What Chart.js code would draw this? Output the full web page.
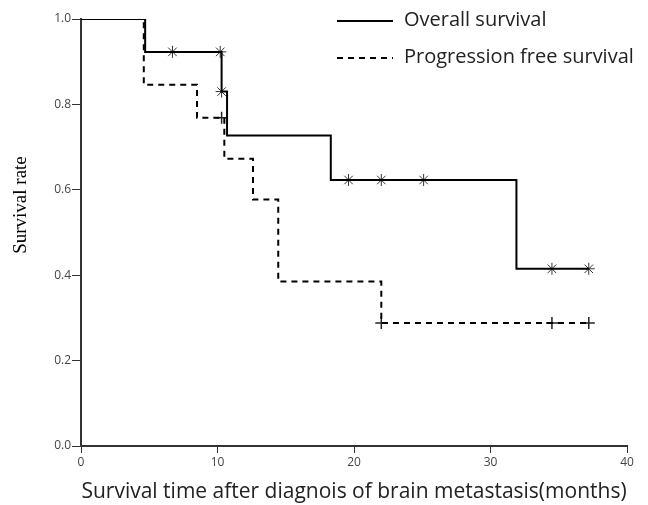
<!DOCTYPE html>
<html>
<head>
<meta charset="utf-8">
<script src="https://cdn.jsdelivr.net/npm/chart.js@4"></script>
<style>
  html, body { margin: 0; padding: 0; background: #fff; }
  #wrap { width: 648px; height: 505px; }
</style>
</head>
<body>
<div id="wrap"><canvas id="kmChart" width="648" height="505"></canvas></div>
<script>
'use strict';

// Kaplan-Meier steps (months, survival)
var osTimes = [0, 4.7, 10.3, 10.7, 18.3, 31.9, 37.2];
var osRates = [1.0, 0.923, 0.830, 0.727, 0.623, 0.415, 0.415];
var osCensorTimes = [6.7, 10.2, 10.3, 19.6, 22.0, 25.1, 34.5, 37.2];
var osCensorRates = [0.923, 0.923, 0.830, 0.623, 0.623, 0.623, 0.415, 0.415];

var pfsTimes = [0, 4.6, 8.5, 10.5, 12.6, 14.45, 22.0, 37.2];
var pfsRates = [1.0, 0.846, 0.769, 0.673, 0.577, 0.385, 0.288, 0.288];
var pfsCensorTimes = [10.3, 22.0, 34.5, 37.2];
var pfsCensorRates = [0.769, 0.288, 0.288, 0.288];

var xTicks = [0, 10, 20, 30, 40];
var yTicks = [0, 0.2, 0.4, 0.6, 0.8, 1.0];

var legendLabels = ['Overall survival', 'Progression free survival'];
var xTitle = 'Survival time after diagnois of brain metastasis(months)';
var yTitle = 'Survival rate';

function toPoints(xs, ys) {
  return xs.map(function(x, i) { return { x: x, y: ys[i] }; });
}

var tickFont = { family: 'Open Sans', size: 12 };

// legend + y title drawn by hand so they sit where the original has them
var extras = {
  id: 'extras',
  afterDraw: function(chart) {
    var ctx = chart.ctx;
    ctx.save();
    ctx.strokeStyle = '#000';
    ctx.lineWidth = 2;
    ctx.beginPath();
    ctx.moveTo(337, 21);
    ctx.lineTo(393, 21);
    ctx.stroke();
    ctx.setLineDash([6, 5]);
    ctx.beginPath();
    ctx.moveTo(337, 58);
    ctx.lineTo(393, 58);
    ctx.stroke();
    ctx.setLineDash([]);
    ctx.fillStyle = '#222';
    ctx.font = '20px "Open Sans"';
    ctx.textBaseline = 'middle';
    ctx.fillText(legendLabels[0], 404, 20);
    ctx.fillText(legendLabels[1], 404, 57);

    ctx.translate(21, 205);
    ctx.rotate(-Math.PI / 2);
    ctx.font = '19px "Liberation Serif"';
    ctx.textAlign = 'center';
    ctx.fillStyle = '#000';
    ctx.fillText(yTitle, 0, 0);
    ctx.restore();
  }
};

var ctx = document.getElementById('kmChart').getContext('2d');
new Chart(ctx, {
  type: 'scatter',
  data: {
    datasets: [{
      label: legendLabels[0],
      data: toPoints(osTimes, osRates),
      showLine: true,
      stepped: true,
      borderColor: '#000',
      borderWidth: 2,
      pointRadius: 0
    }, {
      label: legendLabels[1],
      data: toPoints(pfsTimes, pfsRates),
      showLine: true,
      stepped: true,
      borderColor: '#000',
      borderWidth: 2,
      borderDash: [6, 5],
      pointRadius: 0
    }, {
      label: 'OS censored',
      data: toPoints(osCensorTimes, osCensorRates),
      pointStyle: 'star',
      pointRadius: 6,
      borderColor: '#333',
      borderWidth: 1
    }, {
      label: 'PFS censored',
      data: toPoints(pfsCensorTimes, pfsCensorRates),
      pointStyle: 'cross',
      pointRadius: 6,
      borderColor: '#222',
      borderWidth: 1.5
    }]
  },
  options: {
    responsive: false,
    animation: false,
    layout: { padding: { top: 19, right: 21, left: 0, bottom: 0 } },
    plugins: {
      legend: { display: false },
      tooltip: { enabled: false }
    },
    scales: {
      x: {
        type: 'linear',
        min: 0,
        max: 40,
        afterBuildTicks: function(scale) {
          scale.ticks = xTicks.map(function(v) { return { value: v }; });
        },
        afterFit: function(scale) { scale.height = 59; },
        grid: {
          drawOnChartArea: false,
          drawTicks: true,
          tickLength: 7,
          color: '#333'
        },
        border: { color: '#333', width: 2 },
        ticks: { color: '#444', font: tickFont, padding: 2, maxRotation: 0 },
        title: {
          display: true,
          text: xTitle,
          color: '#222',
          font: { family: 'Open Sans', size: 21 },
          padding: { top: 6, bottom: 0 }
        }
      },
      y: {
        type: 'linear',
        min: 0,
        max: 1,
        afterBuildTicks: function(scale) {
          scale.ticks = yTicks.map(function(v) { return { value: v }; });
        },
        afterFit: function(scale) { scale.width = 81; },
        grid: {
          drawOnChartArea: false,
          drawTicks: true,
          tickLength: 9,
          color: '#333'
        },
        border: { color: '#333', width: 2 },
        ticks: {
          color: '#444',
          font: tickFont,
          padding: 1,
          callback: function(v) { return v.toFixed(1); }
        }
      }
    }
  },
  plugins: [extras]
});
</script>
</body>
</html>
